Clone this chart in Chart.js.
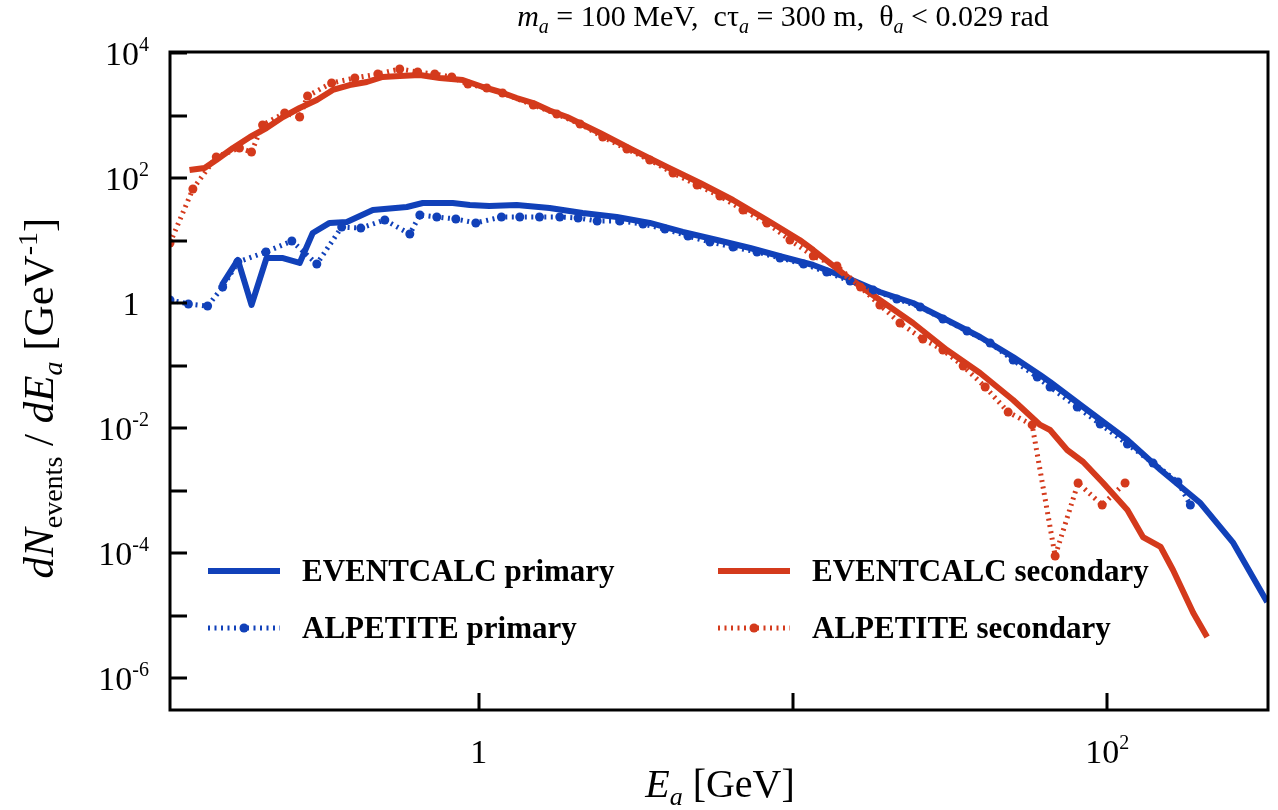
<!DOCTYPE html>
<html>
<head>
<meta charset="utf-8">
<script src="https://cdn.jsdelivr.net/npm/chart.js@4.4.1/dist/chart.umd.min.js"></script>
<style>
  html, body { margin: 0; padding: 0; background: #fff; }
  #wrap { width: 1278px; height: 810px; }
</style>
</head>
<body>
<div id="wrap"><canvas id="spectrum" width="1278" height="810"></canvas></div>
<script>
'use strict';

// E_a [GeV] / dN/dE_a [GeV^-1]
var ecPrimaryE = [0.152, 0.171, 0.189, 0.211, 0.238, 0.269, 0.296, 0.335, 0.380, 0.460,
  0.590, 0.663, 0.826, 0.936, 1.08, 1.32, 1.68, 2.14, 2.75, 3.50,
  4.46, 5.73, 7.30, 9.29, 11.6, 14.9, 18.9, 24.1, 30.9, 39.4,
  50.2, 61.2, 65.8, 83.9, 116, 148, 198, 252, 323];
var ecPrimaryN = [1.94, 4.88, 0.93, 5.25, 5.25, 4.37, 13.2, 19.1, 19.8, 30.8,
  34.4, 39.8, 39.8, 37.0, 35.6, 37.0, 33.1, 27.5, 23.8, 19.1,
  13.7, 10.2, 7.59, 5.45, 4.06, 2.51, 1.50, 1.00, 0.535, 0.286,
  0.137, 0.0705, 0.0545, 0.0217, 0.00643, 0.00213, 0.00063, 0.000145, 1.64e-5];

var ecSecondaryE = [0.120, 0.134, 0.146, 0.165, 0.187, 0.211, 0.238, 0.269, 0.305, 0.343,
  0.388, 0.440, 0.494, 0.560, 0.649, 0.751, 0.889, 1.03, 1.17, 1.32,
  1.49, 1.68, 1.91, 2.43, 3.09, 3.97, 5.06, 6.44, 8.26, 10.5,
  11.6, 14.9, 18.9, 24.1, 30.9, 39.4, 50.2, 61.2, 65.8, 74.6,
  83.9, 97.1, 116, 130, 148, 162, 188, 208];
var ecSecondaryN = [134, 145, 194, 302, 453, 631, 946, 1318, 1770, 2559,
  3076, 3436, 4130, 4285, 4446, 3981, 3698, 2858, 2377, 1905,
  1585, 1200, 946, 525, 281, 150, 83.2, 44.5, 21.3, 10.2,
  7.05, 2.61, 1.12, 0.479, 0.177, 0.0759, 0.0281, 0.0112, 0.00929, 0.00445,
  0.00286, 0.00132, 0.000488, 0.00018, 0.000125, 5.35e-5, 1.10e-5, 4.53e-6];

var alpPrimaryE = [0.104, 0.119, 0.137, 0.153, 0.171, 0.210, 0.254, 0.305, 0.366, 0.421,
  0.502, 0.603, 0.649, 0.735, 0.845, 0.978, 1.18, 1.35, 1.56, 1.81,
  2.07, 2.38, 2.81, 3.33, 3.91, 4.63, 5.44, 6.44, 7.68, 9.09,
  10.8, 12.8, 15.2, 18.0, 21.4, 25.4, 30.0, 35.8, 42.4, 50.2,
  59.9, 65.8, 80.3, 95.0, 116, 140, 168, 184];
var alpPrimaryN = [1.12, 0.964, 0.895, 1.80, 4.53, 6.55, 9.82, 4.21, 16.4, 15.8,
  21.3, 12.7, 25.6, 23.8, 22.1, 19.1, 23.8, 23.8, 23.8, 23.8,
  22.9, 20.5, 20.5, 18.4, 15.3, 11.8, 9.46, 7.87, 6.55, 5.25,
  4.21, 3.13, 2.25, 1.61, 1.16, 0.863, 0.555, 0.356, 0.229, 0.122,
  0.0655, 0.0453, 0.0217, 0.0116, 0.00555, 0.00275, 0.00137, 0.000586];

var alpSecondaryE = [0.104, 0.123, 0.146, 0.173, 0.189, 0.205, 0.241, 0.269, 0.285, 0.340,
  0.403, 0.477, 0.560, 0.639, 0.724, 0.820, 0.923, 1.06, 1.19, 1.49,
  1.77, 2.10, 2.48, 2.96, 3.50, 4.15, 4.95, 5.85, 6.93, 8.26,
  9.78, 11.6, 13.8, 16.4, 18.9, 21.9, 25.9, 30.0, 34.8, 40.9,
  48.4, 57.7, 68.3, 80.8, 96.4, 114];
var alpSecondaryN = [9.12, 66.7, 217, 302, 261, 705, 1096, 946, 2051, 3311,
  3981, 4613, 5546, 4966, 4613, 4130, 3192, 2754, 2291, 1472,
  1057, 731, 453, 291, 194, 120, 77.3, 51.5, 30.8, 19.1,
  10.2, 5.65, 3.91, 1.80, 0.929, 0.479, 0.265, 0.177, 0.0982, 0.0453,
  0.0180, 0.0112, 8.95e-5, 0.00132, 0.000586, 0.00132];

// axis decades: ticks on every one, labels on some
var xTickDecades = [0, 1, 2];
var xLabelDecades = [0, 2];
var yTickDecades = [-6, -5, -4, -3, -2, -1, 0, 1, 2, 3, 4];
var yLabelDecades = [4, 2, 0, -2, -4, -6];

var BLUE = '#1141b9';
var RED = '#d43a1c';
var SERIF = '"Liberation Serif", "Times New Roman", serif';
var DOTS = [2, 4.5];

function font(size, style, weight) {
  return (style || 'normal') + ' ' + (weight || 'normal') + ' ' + size + 'px ' + SERIF;
}

function toPoints(xs, ys) {
  return xs.map(function (x, i) { return { x: x, y: ys[i] }; });
}

// parts: [text, font, dy]
function richWidth(ctx, parts) {
  var w = 0;
  parts.forEach(function (p) { ctx.font = p[1]; w += ctx.measureText(p[0]).width; });
  return w;
}

function drawRich(ctx, parts, x, y, align) {
  var w = richWidth(ctx, parts);
  var cx = align === 'center' ? x - w / 2 : (align === 'right' ? x - w : x);
  parts.forEach(function (p) {
    ctx.font = p[1];
    ctx.fillText(p[0], cx, y + (p[2] || 0));
    cx += ctx.measureText(p[0]).width;
  });
}

function powerLabel(d, size) {
  if (d === 0) return [['1', font(size)]];
  return [['10', font(size)], [String(d), font(Math.round(size * 0.6)), -Math.round(size * 0.4)]];
}

function legendItem(ctx, x, y, ds) {
  ctx.save();
  ctx.strokeStyle = ds.borderColor;
  ctx.lineWidth = ds.borderWidth;
  ctx.setLineDash(ds.borderDash || []);
  ctx.beginPath();
  ctx.moveTo(x, y);
  ctx.lineTo(x + 72, y);
  ctx.stroke();
  if (ds.pointRadius) {
    ctx.setLineDash([]);
    ctx.fillStyle = ds.borderColor;
    ctx.beginPath();
    ctx.arc(x + 36, y, ds.pointRadius, 0, Math.PI * 2);
    ctx.fill();
  }
  ctx.fillStyle = '#000';
  ctx.font = font(31, 'normal', 'bold');
  ctx.textBaseline = 'middle';
  ctx.fillText(ds.label, x + 94, y + 2);
  ctx.restore();
}

var framePlugin = {
  id: 'frame',
  afterDraw: function (chart) {
    var ctx = chart.ctx, a = chart.chartArea;
    var xs = chart.scales.x, ys = chart.scales.y;
    ctx.save();

    // box + inward ticks
    ctx.strokeStyle = '#000';
    ctx.lineWidth = 3;
    ctx.strokeRect(a.left, a.top, a.right - a.left, a.bottom - a.top);
    ctx.beginPath();
    yTickDecades.forEach(function (d) {
      var py = Math.round(ys.getPixelForValue(Math.pow(10, d)));
      ctx.moveTo(a.left, py);
      ctx.lineTo(a.left + 17, py);
    });
    xTickDecades.forEach(function (d) {
      var px = Math.round(xs.getPixelForValue(Math.pow(10, d)));
      ctx.moveTo(px, a.bottom);
      ctx.lineTo(px, a.bottom - 17);
    });
    ctx.stroke();

    // tick labels
    ctx.fillStyle = '#000';
    ctx.textBaseline = 'alphabetic';
    yLabelDecades.forEach(function (d) {
      var py = ys.getPixelForValue(Math.pow(10, d));
      if (d === 0) drawRich(ctx, powerLabel(d, 34), 131, py + 12, 'center');
      else drawRich(ctx, powerLabel(d, 34), 149, py + 12, 'right');
    });
    xLabelDecades.forEach(function (d) {
      var px = xs.getPixelForValue(Math.pow(10, d));
      drawRich(ctx, powerLabel(d, 34), px, 763, 'center');
    });

    // axis titles
    drawRich(ctx, [
      ['E', font(40, 'italic')], ['a', font(26, 'italic'), 8], [' [GeV]', font(40)]
    ], 720, 797, 'center');

    ctx.save();
    ctx.translate(38, 398);
    ctx.rotate(-Math.PI / 2);
    drawRich(ctx, [
      ['dN', font(43, 'italic')], ['events', font(28), 9], [' / ', font(43)],
      ['dE', font(43, 'italic')], ['a', font(28, 'italic'), 9], [' [GeV', font(43)],
      ['-1', font(28), -16], [']', font(43)]
    ], 0, 15, 'center');
    ctx.restore();

    // title
    drawRich(ctx, [
      ['m', font(30, 'italic')], ['a', font(20, 'italic'), 7], [' = 100 MeV,  c\u03c4', font(30)],
      ['a', font(20, 'italic'), 7], [' = 300 m,  \u03b8', font(30)],
      ['a', font(20, 'italic'), 7], [' < 0.029 rad', font(30)]
    ], 783, 26, 'center');

    // legend
    var dsets = chart.data.datasets;
    legendItem(ctx, 208, 571, dsets[0]);
    legendItem(ctx, 718, 571, dsets[1]);
    legendItem(ctx, 208, 628, dsets[2]);
    legendItem(ctx, 718, 628, dsets[3]);

    ctx.restore();
  }
};

var ctx = document.getElementById('spectrum');
var spectrumChart = new Chart(ctx, {
  type: 'line',
  data: {
    datasets: [
      {
        label: 'EVENTCALC primary',
        data: toPoints(ecPrimaryE, ecPrimaryN),
        borderColor: BLUE, borderWidth: 6, pointRadius: 0, order: 3
      },
      {
        label: 'EVENTCALC secondary',
        data: toPoints(ecSecondaryE, ecSecondaryN),
        borderColor: RED, borderWidth: 6, pointRadius: 0, order: 2
      },
      {
        label: 'ALPETITE primary',
        data: toPoints(alpPrimaryE, alpPrimaryN),
        borderColor: BLUE, borderWidth: 5, borderDash: DOTS,
        pointRadius: 4.5, pointBorderWidth: 0, pointBackgroundColor: BLUE, order: 1
      },
      {
        label: 'ALPETITE secondary',
        data: toPoints(alpSecondaryE, alpSecondaryN),
        borderColor: RED, borderWidth: 5, borderDash: DOTS,
        pointRadius: 4.5, pointBorderWidth: 0, pointBackgroundColor: RED, order: 0
      }
    ]
  },
  options: {
    responsive: false,
    animation: false,
    devicePixelRatio: 1,
    layout: { padding: { left: 170, right: 10, top: 52, bottom: 100 } },
    elements: { line: { tension: 0, borderCapStyle: 'butt', borderJoinStyle: 'round' } },
    scales: {
      x: { type: 'logarithmic', min: 0.104, max: 325, display: false },
      y: { type: 'logarithmic', min: 3.08e-7, max: 10375, display: false }
    },
    plugins: {
      legend: { display: false },
      tooltip: { enabled: false }
    }
  },
  plugins: [framePlugin]
});
</script>
</body>
</html>
